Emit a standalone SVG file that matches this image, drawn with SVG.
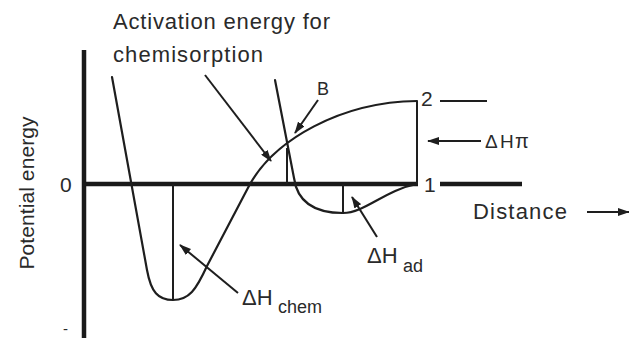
<svg xmlns="http://www.w3.org/2000/svg" width="629" height="338" viewBox="0 0 629 338">
<style>
.t{font-family:"Liberation Sans",Arial,sans-serif;fill:#2a2a2a}
.c{fill:none;stroke:#1e1e1e;stroke-width:2.2;stroke-linejoin:round;stroke-linecap:round}
.ax{fill:none;stroke:#1a1a1a;stroke-width:4.5}
.thin{fill:none;stroke:#1e1e1e;stroke-width:2}
.ar{fill:none;stroke:#1e1e1e;stroke-width:2;marker-end:url(#ah)}
</style>
<defs>
<marker id="ah" viewBox="0 0 12 8" refX="11" refY="4" markerWidth="12" markerHeight="8" markerUnits="userSpaceOnUse" orient="auto">
<path d="M0,0 L12,4 L0,8 Z" fill="#1e1e1e"/>
</marker>
</defs>
<rect width="629" height="338" fill="#fff"/>
<g id="axes">
<line class="ax" x1="84" y1="50" x2="84" y2="338"/>
<line class="ax" x1="84" y1="184" x2="418" y2="184"/>
<line class="ax" x1="440" y1="184" x2="522" y2="184"/>
<line class="thin" x1="440" y1="101" x2="487" y2="101"/>
<text class="t" x="60" y="192" font-size="21">0</text>
<text class="t" x="63" y="334" font-size="15">-</text>
<text class="t" x="424" y="192" font-size="21">1</text>
<text class="t" x="421" y="106" font-size="21">2</text>
<text class="t" transform="translate(34,193) rotate(-90)" text-anchor="middle" font-size="21" textLength="153" lengthAdjust="spacing">Potential energy</text>
<text class="t" x="473" y="219" font-size="22" textLength="94" lengthAdjust="spacing">Distance</text>
</g>
<g id="chemisorption-curve">
<path class="c" d="M112,77 L147,270 C151,292 158,300 173,300 C189,300 196,290 207,266 L250,184 C275,140 340,102 417,101"/>
<line class="thin" x1="173" y1="184" x2="173" y2="300"/>
<line class="thin" x1="417" y1="101" x2="417" y2="184"/>
</g>
<g id="physisorption-curve">
<path class="c" d="M275,80 L294,178 C297,200 312,213 343,213 C365,213 385,190 417,184"/>
<line class="thin" x1="343" y1="184" x2="343" y2="213"/>
<line class="thin" x1="287" y1="148" x2="287" y2="184"/>
</g>
<g id="labels">
<text class="t" x="113" y="29" font-size="22" textLength="217" lengthAdjust="spacing">Activation energy for</text>
<text class="t" x="113" y="62" font-size="22" textLength="150" lengthAdjust="spacing">chemisorption</text>
<text class="t" x="317" y="95" font-size="18">B</text>
<text class="t" y="148" font-size="19"><tspan x="485">Δ</tspan><tspan x="500">H</tspan><tspan x="515" font-size="20">π</tspan></text>
<text class="t" x="242" y="305" font-size="22">ΔH</text>
<text class="t" x="278" y="313" font-size="18">chem</text>
<text class="t" x="367" y="263" font-size="22">ΔH</text>
<text class="t" x="403" y="272" font-size="18">ad</text>
</g>
<g id="connectors">
<line class="ar" x1="205" y1="75" x2="271" y2="161"/>
<line class="ar" x1="318" y1="100" x2="295" y2="133"/>
<line class="ar" x1="481" y1="141" x2="428" y2="141"/>
<line class="ar" x1="238" y1="293" x2="180" y2="245"/>
<line class="ar" x1="377" y1="237" x2="352" y2="197"/>
<line class="ar" x1="587" y1="212" x2="629" y2="212"/>
</g>
</svg>
